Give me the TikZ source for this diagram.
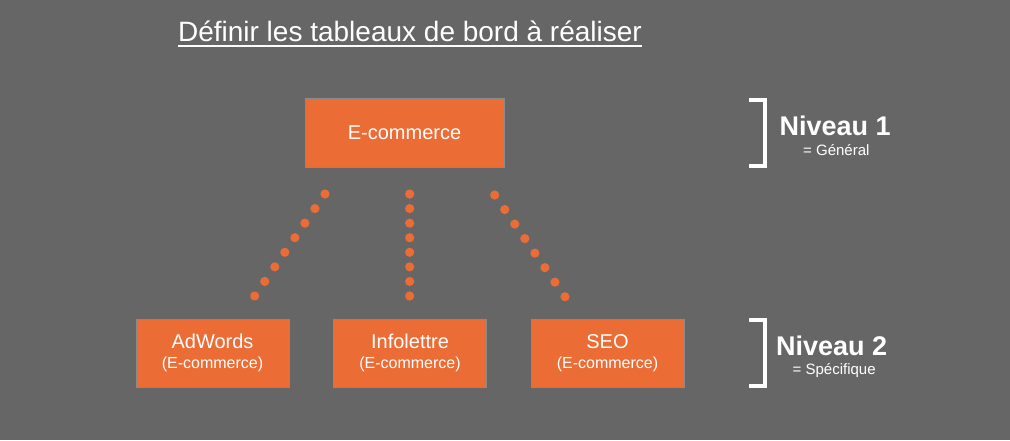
\documentclass[tikz,border=0pt]{standalone}
\usepackage{fontspec}
\setmainfont{Liberation Sans}
\usetikzlibrary{positioning, calc}
\definecolor{slategray}{RGB}{102, 102, 102}
\definecolor{boxorange}{RGB}{236, 108, 53}
\definecolor{boxline}{RGB}{138, 138, 138}

\begin{document}
\begin{tikzpicture}[
    x=1pt, y=-1pt,
    box/.style={rectangle, draw=boxline, line width=1pt, fill=boxorange, text=white, outer sep=0pt, align=center},
    topbox/.style={box, minimum width=199pt, minimum height=69pt, font=\fontsize{20}{24}\selectfont},
    subbox/.style={box, minimum width=153pt, minimum height=68pt, font=\fontsize{20}{20}\selectfont},
    level/.style={text=white, inner sep=0pt, anchor=base west, font=\bfseries\fontsize{27}{30}\selectfont},
    note/.style={text=white, inner sep=0pt, anchor=base west, font=\fontsize{15}{18}\selectfont},
    bracket/.style={draw=white, line width=3.5pt},
    dot/.style={fill=boxorange}
]
    % Background
    \fill[slategray] (0,0) rectangle (1010,440);
    \useasboundingbox (0,0) rectangle (1010,440);

    % Title
    \node[text=white, inner sep=0pt, anchor=base, font=\fontsize{28}{30}\selectfont] (title) at (410,41.7) {Définir les tableaux de bord à réaliser};
    \draw[white, line width=1.5pt] ($(title.base west)+(0,4.5)$) -- ($(title.base east)+(0,4.5)$);

    % Boxes
    \node[topbox] (ecom) at (404.5,132.5) {E-commerce};
    \node[subbox] (adwords) at (212.5,353) {AdWords\\{\fontsize{16}{20}\selectfont (E-commerce)}};
    \node[subbox, right=44.5pt of adwords] (infolettre) {Infolettre\\{\fontsize{16}{20}\selectfont (E-commerce)}};
    \node[subbox, right=44.5pt of infolettre] (seo) {SEO\\{\fontsize{16}{20}\selectfont (E-commerce)}};

    % Dotted links
    \coordinate (ltop) at (325,194);
    \coordinate (lbot) at (254.7,296);
    \coordinate (mtop) at (409.7,194);
    \coordinate (mbot) at (409.7,296);
    \coordinate (rtop) at (494.7,195);
    \coordinate (rbot) at (565,296.7);
    \foreach \a/\b in {ltop/lbot, mtop/mbot, rtop/rbot}
        \foreach \i in {0,...,7}
            \fill[dot] ($(\a)!\i/7!(\b)$) circle (4.6);

    % Levels
    \draw[bracket] (749,100) -- (765,100) -- (765,166) -- (749,166);
    \node[level] (lvlone) at (779.5,135.7) {Niveau 1};
    \node[note] (general) at (803,155.7) {= Général};
    \draw[bracket] (749,320) -- (765,320) -- (765,386) -- (749,386);
    \node[level] (lvltwo) at (776,355.7) {Niveau 2};
    \node[note] (specific) at (792.5,374) {= Spécifique};
\end{tikzpicture}
\end{document}
